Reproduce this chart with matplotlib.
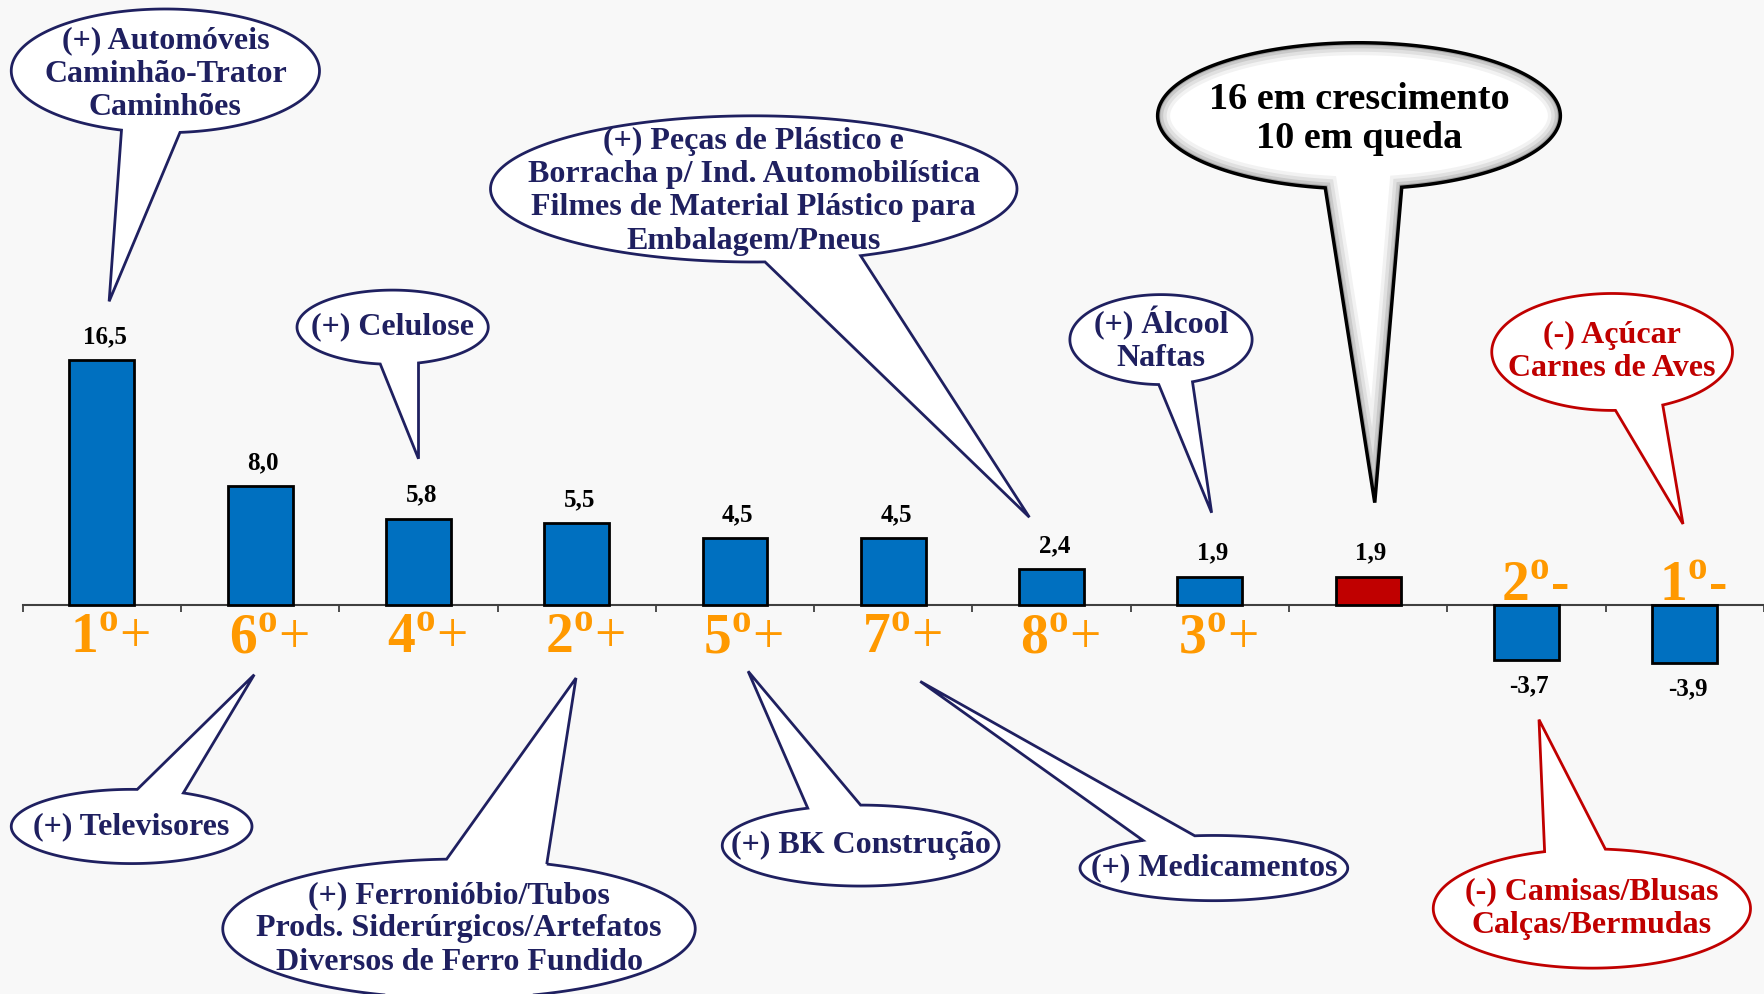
import numpy as np
import matplotlib.pyplot as plt
from matplotlib.path import Path
from matplotlib.patches import PathPatch

plt.rcParams['mathtext.fontset'] = 'custom'
plt.rcParams['mathtext.rm'] = 'Liberation Serif'
plt.rcParams['mathtext.bf'] = 'Liberation Serif:bold'

# data
values = [16.5, 8.0, 5.8, 5.5, 4.5, 4.5, 2.4, 1.9, 1.9, -3.7, -3.9]
ranks = ['1', '6', '4', '2', '5', '7', '8', '3', '', '2', '1']
signs = ['+', '+', '+', '+', '+', '+', '+', '+', '', '-', '-']
bar_colors = ['#0070C0'] * 8 + ['#C00000'] + ['#0070C0'] * 2

NAVY = '#1F2060'
RED = '#C00000'
ORANGE = '#FF9900'
BG = '#F8F8F8'

fig = plt.figure(figsize=(17.64, 9.94), dpi=100, facecolor=BG)
ax = fig.add_axes([0, 0, 1, 1])
ax.set_facecolor(BG)

x = np.arange(len(values))
ax.bar(x, values, width=0.41, color=bar_colors, edgecolor='black', linewidth=2, zorder=3)
ax.set_xlim(-0.643, 10.431)
ax.set_ylim(-26.21, 40.76)

for s in ['top', 'left', 'right']:
    ax.spines[s].set_visible(False)
ax.spines['bottom'].set_position(('data', 0))
ax.spines['bottom'].set_bounds(-0.5, 10.5)
ax.spines['bottom'].set_color('#404040')
ax.spines['bottom'].set_linewidth(1.5)
ax.set_xticks(np.arange(-0.5, 11, 1))
ax.set_xticklabels([])
ax.tick_params(axis='x', direction='out', length=5, width=1.3, color='#404040')
ax.set_yticks([])

# value labels
for xi, v in zip(x, values):
    lab = f"{v:.1f}".replace('.', ',')
    off = 17 if v > 0 else -19
    ax.annotate(lab, (xi, v), xytext=(2, off), textcoords='offset points',
                ha='center', va='center', fontsize=18, fontweight='bold',
                family='Liberation Serif', color='black')

# rank labels
for xi, v, r, s in zip(x, values, ranks, signs):
    if not r:
        continue
    lab = r"$\mathbf{" + r + r"}^{\mathbf{o}}$" + s
    if v > 0:
        ax.annotate(lab, (xi, 0), xytext=(6, -25), textcoords='offset points',
                    ha='center', va='center', fontsize=40, color=ORANGE,
                    family='Liberation Serif')
    else:
        ax.annotate(lab, (xi, 0), xytext=(6, 13), textcoords='offset points',
                    ha='center', va='center', fontsize=40, color=ORANGE,
                    family='Liberation Serif', fontweight='bold')

# callout bubbles drawn on an overlay in picture pixels
ov = fig.add_axes([0, 0, 1, 1])
ov.set_xlim(0, 1568)
ov.set_ylim(884, 0)
ov.axis('off')
ov.patch.set_alpha(0)


def bubble(cx, cy, a, b, xb1, xb2, side, tip, text, ec=NAVY, tc=NAVY,
           fs=23, lw=2, shadow=False, ty=None, ls=1.2):
    sgn = 1 if side == 'bottom' else -1
    ta = sgn * np.arccos(np.clip((xb1 - cx) / a, -1, 1))
    tb = sgn * np.arccos(np.clip((xb2 - cx) / a, -1, 1))
    d = (tb - ta) % (2 * np.pi)
    if d < np.pi:
        t0, t1 = tb, ta + 2 * np.pi
    else:
        t0, t1 = ta, ta + d
    t = np.linspace(t0, t1, 200)
    pts = np.column_stack([cx + a * np.cos(t), cy + b * np.sin(t)])
    pts = np.vstack([pts, tip, pts[0]])
    codes = [Path.MOVETO] + [Path.LINETO] * (len(pts) - 2) + [Path.CLOSEPOLY]
    path = Path(pts, codes)
    body = PathPatch(path, fc='white', ec='none', zorder=5)
    ov.add_patch(body)
    if shadow:
        for w, al in [(18, 0.05), (13, 0.07), (8, 0.1), (4, 0.18)]:
            p = PathPatch(path, fc='none', ec='black', lw=w, alpha=al, zorder=6)
            ov.add_patch(p)
            p.set_clip_path(body)
    ov.add_patch(PathPatch(path, fc='none', ec=ec, lw=lw, zorder=7,
                           joinstyle='miter'))
    ov.text(cx, cy if ty is None else ty, text, ha='center', va='center',
            fontsize=fs, fontweight='bold', color=tc, family='Liberation Serif',
            linespacing=ls, zorder=8)


bubble(147, 63, 137, 55, 108, 160, 'bottom', (97, 268),
       "(+) Automóveis\nCaminhão-Trator\nCaminhões", ty=66)
bubble(349, 291, 85, 33, 338, 372, 'bottom', (372, 408), "(+) Celulose")
bubble(670, 168, 234, 65, 680, 765, 'bottom', (915, 460),
       "(+) Peças de Plástico e\nBorracha p/ Ind. Automobilística\n"
       "Filmes de Material Plástico para\nEmbalagem/Pneus", ty=170)
bubble(1208, 103, 179, 65, 1178, 1246, 'bottom', (1222, 447),
       "16 em crescimento\n10 em queda", ec='black', tc='black', fs=27.5,
       lw=2.5, shadow=True, ty=106, ls=1.14)
bubble(1032, 302, 81, 40, 1030, 1060, 'bottom', (1077, 456), "(+) Álcool\nNaftas")
bubble(1433, 313, 107, 52, 1436, 1478, 'bottom', (1496, 466),
       "(-) Açúcar\nCarnes de Aves", ec=RED, tc=RED)
bubble(117, 735, 107, 33, 122, 163, 'top', (226, 600), "(+) Televisores")
bubble(408, 826, 210, 62, 397, 486, 'top', (512, 603),
       "(+) Ferronióbio/Tubos\nProds. Siderúrgicos/Artefatos\nDiversos de Ferro Fundido")
bubble(765, 752, 123, 36, 718, 765, 'top', (665, 597), "(+) BK Construção")
bubble(1079, 772, 119, 29, 1016, 1062, 'top', (818, 606), "(+) Medicamentos")
bubble(1415, 808, 141, 53, 1373, 1427, 'top', (1368, 640),
       "(-) Camisas/Blusas\nCalças/Bermudas", ec=RED, tc=RED)

fig.savefig('out.png', dpi=100, facecolor=BG)
